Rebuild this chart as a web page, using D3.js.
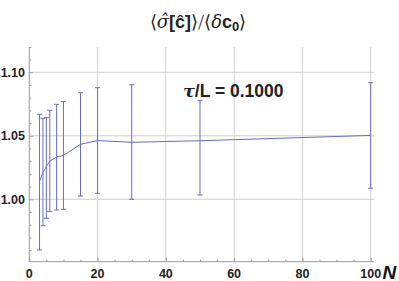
<!DOCTYPE html>
<html>
<head>
<script src="https://cdn.jsdelivr.net/npm/d3@7"></script>
<style>
body { margin: 0; background: white; }
text { font-family: "Liberation Sans", Arial, sans-serif; }
</style>
</head>
<body>
<svg id="chart" width="399" height="281"></svg>
<script>
// data
const nValues  = [3, 4, 5, 6, 8, 10, 15, 20, 30, 50, 100];
const meanVals = [1.0142, 1.0212, 1.0257, 1.0300, 1.0334, 1.0346, 1.0433, 1.0462, 1.0449, 1.0461, 1.0503];
const lowVals  = [0.9601, 0.9792, 0.9850, 0.9903, 0.9916, 0.9921, 1.0026, 1.0047, 1.0000, 1.0034, 1.0087];
const highVals = [1.0669, 1.0638, 1.0643, 1.0701, 1.0748, 1.0769, 1.0839, 1.0879, 1.0902, 1.0777, 1.0918];
const xMajor = [0, 20, 40, 60, 80, 100];
const yMajor = [1.00, 1.05, 1.10];

const svg = d3.select("#chart");
const x = d3.scaleLinear().domain([0, 101]).range([29.3, 374.1]);
const y = d3.scaleLinear().domain([0.95085, 1.12]).range([261.7, 46.9]);
const blue = "#6a6eb8";

// grid
svg.append("g").selectAll("line").data(yMajor).enter().append("line")
  .attr("x1", x(0)).attr("x2", x(101))
  .attr("y1", d => y(d)).attr("y2", d => y(d))
  .attr("stroke", "#d0d0d0").attr("stroke-width", 1);
svg.append("g").selectAll("line").data(xMajor.filter(d => d > 0)).enter().append("line")
  .attr("x1", d => x(d)).attr("x2", d => x(d))
  .attr("y1", y(0.95085)).attr("y2", y(1.12))
  .attr("stroke", "#d0d0d0").attr("stroke-width", 1);

// axes (ticks drawn inward like the original)
const xAxis = svg.append("g").attr("transform", "translate(0," + y(0.95085) + ")")
  .call(d3.axisTop(x).tickValues(d3.range(0, 101, 5)).tickSize(2).tickFormat(""));
xAxis.selectAll(".tick line").filter(d => d % 20 === 0).attr("y2", -4);
xAxis.select(".domain").attr("d", "M" + x(0) + ",0H" + x(101));

const yAxis = svg.append("g").attr("transform", "translate(" + x(0) + ",0)")
  .call(d3.axisRight(y).tickValues(d3.range(0.96, 1.121, 0.01)).tickSize(2).tickFormat(""));
yAxis.selectAll(".tick line").filter(d => Math.abs(d * 100 % 5) < 0.01 || Math.abs(d * 100 % 5 - 5) < 0.01).attr("x2", 4);
yAxis.select(".domain").attr("d", "M0," + y(0.95085) + "V" + y(1.12));
svg.selectAll(".domain, .tick line").attr("stroke", "#999");

// tick labels
svg.append("g").selectAll("text").data(xMajor).enter().append("text")
  .attr("x", d => x(d)).attr("y", 277.5)
  .attr("text-anchor", "middle").attr("font-size", 12.5).attr("font-weight", "bold")
  .attr("fill", "#222").text(d => d);
svg.append("g").selectAll("text").data(yMajor).enter().append("text")
  .attr("x", 25).attr("y", d => y(d) + 4.4)
  .attr("text-anchor", "end").attr("font-size", 12.5).attr("font-weight", "bold")
  .attr("fill", "#222").text(d => d.toFixed(2));

// axis label N
svg.append("text").attr("x", 382.5).attr("y", 278.5)
  .attr("font-size", 19).attr("font-weight", "bold").attr("font-style", "italic")
  .attr("fill", "#111").text("N");

// error bars
const rows = nValues.map((n, i) => ({n: n, m: meanVals[i], lo: lowVals[i], hi: highVals[i]}));
const eb = svg.append("g").attr("stroke", blue).attr("stroke-width", 1);
eb.selectAll(".bar").data(rows).enter().append("line")
  .attr("x1", d => x(d.n)).attr("x2", d => x(d.n))
  .attr("y1", d => y(d.lo)).attr("y2", d => y(d.hi));
eb.selectAll(".capLo").data(rows).enter().append("line")
  .attr("x1", d => x(d.n) - 2.5).attr("x2", d => x(d.n) + 2.5)
  .attr("y1", d => y(d.lo)).attr("y2", d => y(d.lo));
eb.selectAll(".capHi").data(rows).enter().append("line")
  .attr("x1", d => x(d.n) - 2.5).attr("x2", d => x(d.n) + 2.5)
  .attr("y1", d => y(d.hi)).attr("y2", d => y(d.hi));

// mean line
svg.append("path").datum(rows)
  .attr("fill", "none").attr("stroke", blue).attr("stroke-width", 1)
  .attr("d", d3.line().x(d => x(d.n)).y(d => y(d.m)));

// annotation
const ann = svg.append("text").attr("x", 183).attr("y", 96.5)
  .attr("font-size", 17.5).attr("font-weight", "bold").attr("fill", "#222");
ann.append("tspan").attr("font-family", "DejaVu Serif").attr("font-style", "italic").text("τ");
ann.append("tspan").text("/L = 0.1000");

// title
const t = svg.append("text").attr("x", 198).attr("y", 28)
  .attr("text-anchor", "middle").attr("font-size", 18).attr("fill", "#222");
t.append("tspan").attr("font-family", "DejaVu Sans").attr("font-weight", "200").text("⟨");
t.append("tspan").attr("font-family", "DejaVu Serif").attr("font-style", "italic").text("σ̂");
t.append("tspan").attr("font-weight", "bold").text("[ĉ]");
t.append("tspan").attr("font-family", "DejaVu Sans").attr("font-weight", "200").text("⟩/⟨");
t.append("tspan").attr("font-family", "DejaVu Serif").attr("font-style", "italic").text("δ");
t.append("tspan").attr("font-weight", "bold").text("c");
t.append("tspan").attr("font-weight", "bold").attr("font-size", 13).attr("dy", 3).text("0");
t.append("tspan").attr("font-family", "DejaVu Sans").attr("font-weight", "200").attr("dy", -3).text("⟩");
</script>
</body>
</html>
